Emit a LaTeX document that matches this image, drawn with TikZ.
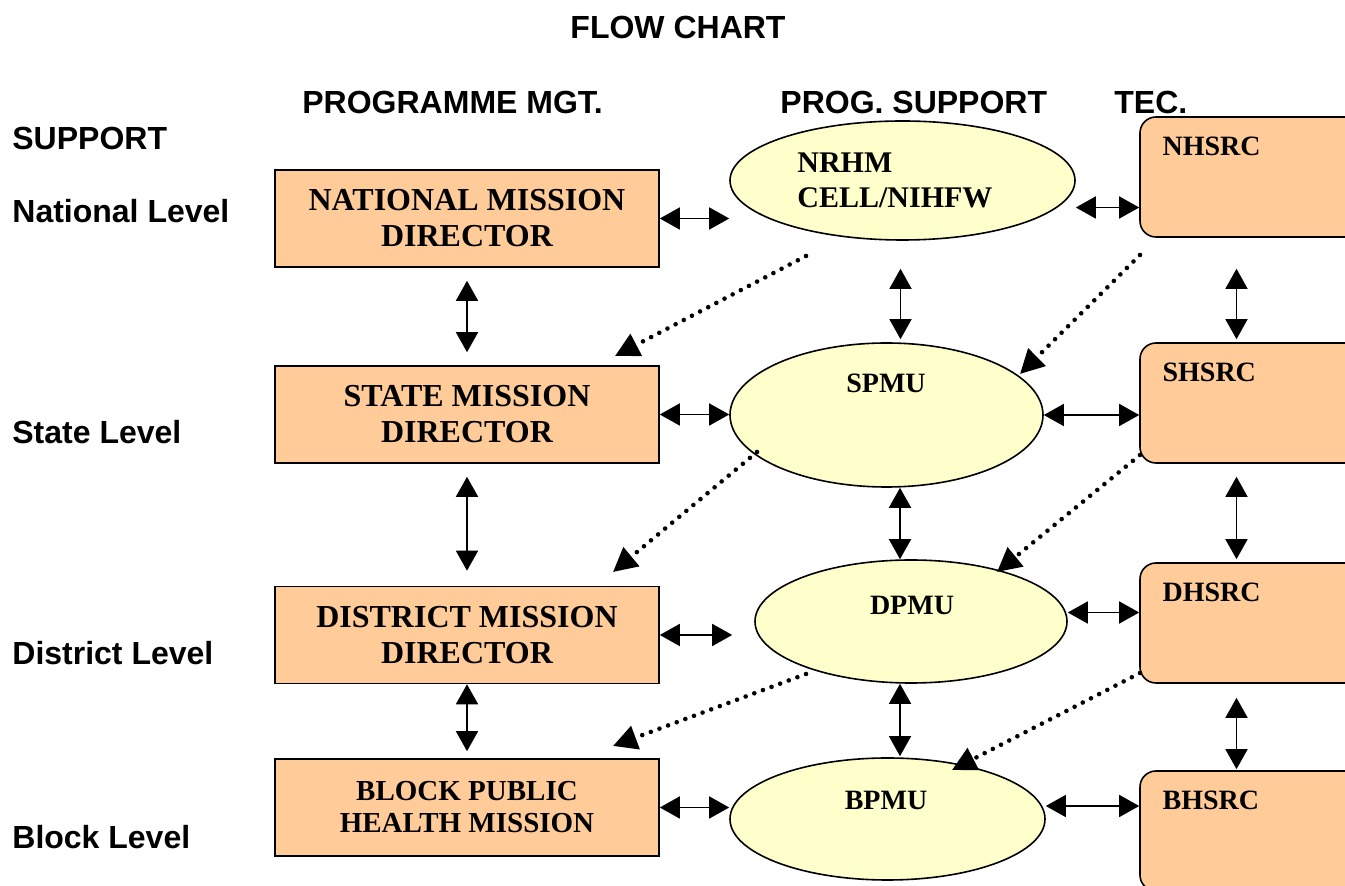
\documentclass[tikz,border=0pt]{standalone}
\usepackage{fontspec}
\setmainfont{Liberation Serif}
\newfontfamily\headfont{Liberation Sans}
\usetikzlibrary{positioning}
\usetikzlibrary{shapes.geometric,arrows.meta}

\definecolor{mgtfill}{RGB}{255,204,153}
\definecolor{pmufill}{RGB}{255,255,204}

\tikzset{
  mgtbox/.style={draw, line width=0.8pt, fill=mgtfill, minimum width=192pt, minimum height=48.5pt,
    align=center, inner sep=0pt, font=\fontsize{16}{18}\selectfont\bfseries},
  pmu/.style={ellipse, draw, line width=0.8pt, fill=pmufill, inner sep=0pt},
  tecbox/.style={draw, rounded corners=8pt, line width=0.8pt, fill=mgtfill,
    minimum width=112.5pt, minimum height=60pt},
  smalltxt/.style={inner sep=0pt, align=left, font=\fontsize{14}{17.5}\selectfont\bfseries},
  heading/.style={inner sep=0pt, anchor=base west, font=\headfont\fontsize{16}{18}\selectfont\bfseries},
  dbl/.style={{Triangle[length=10pt,width=11pt]}-{Triangle[length=10pt,width=11pt]}, line width=0.8pt},
  dotarr/.style={-{Triangle[length=12pt,width=12pt]}, line width=2.3pt, line cap=round,
    dash pattern=on 0pt off 4.6pt}
}

\begin{document}
\begin{tikzpicture}[x=0.5pt,y=-0.5pt]
	\useasboundingbox (0,0) rectangle (1345,886);
	\clip (0,0) rectangle (1345,886);

	% headings
	\node[heading, anchor=base] (title) at (678,39) {FLOW CHART};
	\node[heading] (hmgt) at (302,114) {PROGRAMME MGT.};
	\node[heading] (hsup) at (780,114) {PROG. SUPPORT};
	\node[heading] (htec) at (1114,114) {TEC.};
	\node[heading] (lsup) at (12,150) {SUPPORT};
	\node[heading] (lnat) at (12,223) {National Level};
	\node[heading] (lsta) at (12,444) {State Level};
	\node[heading] (ldis) at (12,665) {District Level};
	\node[heading] (lblo) at (12,849) {Block Level};

	% programme management
	\node[mgtbox] (natl) at (467,218.5) {NATIONAL MISSION\\DIRECTOR};
	\node[mgtbox] (state) at (467,414.5) {STATE MISSION\\DIRECTOR};
	\node[mgtbox] (dist) at (467,635) {DISTRICT MISSION\\DIRECTOR};
	\node[mgtbox, font=\fontsize{14.5}{16}\selectfont\bfseries] (block) at (467,807.5) {BLOCK PUBLIC\\HEALTH MISSION};

	% programme support
	\node[pmu, minimum width=172.5pt, minimum height=59.5pt] (nrhm) at (902.5,180.5) {};
	\node[pmu, minimum width=156.5pt, minimum height=72pt] (spmu) at (886.5,415) {};
	\node[pmu, minimum width=156pt, minimum height=61.5pt] (dpmu) at (911,621.5) {};
	\node[pmu, minimum width=157.5pt, minimum height=61pt] (bpmu) at (887.5,819) {};
	\node[smalltxt, anchor=west, font=\fontsize{15}{17.5}\selectfont\bfseries] (nrhmT) at (797,180) {NRHM\\CELL/NIHFW};
	\node[smalltxt] (spmuT) at (886,383) {SPMU};
	\node[smalltxt] (dpmuT) at (912,605) {DPMU};
	\node[smalltxt] (bpmuT) at (886,800) {BPMU};

	% technical support
	\node[tecbox] (nhsrc) at (1252.5,177) {};
	\node[tecbox] (shsrc) at (1252.5,403) {};
	\node[tecbox] (dhsrc) at (1252.5,623) {};
	\node[tecbox] (bhsrc) at (1252.5,831) {};
	\node[smalltxt, anchor=base west] (nhsrcT) at ([shift={(23,39)}]nhsrc.north west) {NHSRC};
	\node[smalltxt, anchor=base west] (shsrcT) at ([shift={(23,39)}]shsrc.north west) {SHSRC};
	\node[smalltxt, anchor=base west] (dhsrcT) at ([shift={(23,39)}]dhsrc.north west) {DHSRC};
	\node[smalltxt, anchor=base west] (bhsrcT) at ([shift={(23,39)}]bhsrc.north west) {BHSRC};

	% horizontal links
	\draw[dbl] (natl.east) -- (natl.east -| nrhm.west);
	\draw[dbl] ([yshift=-13.5pt]nrhm.east) -- ([yshift=-13.5pt]nrhm.east -| nhsrc.west);
	\draw[dbl] (state.east) -- (state.east -| spmu.west);
	\draw[dbl] (spmu.east) -- (spmu.east -| shsrc.west);
	\draw[dbl, shorten >=11pt] (dist.east) -- (dist.east -| dpmu.west);
	\draw[dbl] ([yshift=4.5pt]dpmu.east) -- ([yshift=4.5pt]dpmu.east -| dhsrc.west);
	\draw[dbl] (block.east) -- (block.east -| bpmu.west);
	\draw[dbl] ([yshift=6.5pt]bpmu.east) -- ([yshift=6.5pt]bpmu.east -| bhsrc.west);

	% vertical links
	\draw[dbl, shorten <=6.5pt, shorten >=6.5pt] (natl.south) -- (state.north);
	\draw[dbl, shorten <=6.5pt, shorten >=7.5pt] (state.south) -- (dist.north);
	\draw[dbl, shorten >=3.5pt] (dist.south) -- (block.north);
	\draw[dbl, shorten <=14pt, shorten >=1.5pt] ([xshift=-1pt]nrhm.south) -- ([xshift=-1pt]nrhm.south |- spmu.north);
	\draw[dbl] ([xshift=-5.5pt]dpmu.north |- spmu.south) -- ([xshift=-5.5pt]dpmu.north);
	\draw[dbl, shorten >=0.5pt] ([xshift=-5.5pt]dpmu.south) -- ([xshift=-5.5pt]dpmu.south |- bpmu.north);
	\draw[dbl, shorten <=15.5pt, shorten >=1.5pt] ([xshift=-8pt]nhsrc.south) -- ([xshift=-8pt]shsrc.north);
	\draw[dbl, shorten <=6.5pt, shorten >=1.5pt] ([xshift=-8pt]shsrc.south) -- ([xshift=-8pt]dhsrc.north);
	\draw[dbl, shorten <=7pt, shorten >=0.5pt] ([xshift=-8pt]dhsrc.south) -- ([xshift=-8pt]bhsrc.north);

	% dotted links
	\coordinate (d1s) at (806,256);  \coordinate (d1e) at (615,356);
	\coordinate (d2s) at (1140,255); \coordinate (d2e) at (1020,374);
	\coordinate (d3s) at (757,452);  \coordinate (d3e) at (613,572);
	\coordinate (d4s) at (1140,455); \coordinate (d4e) at (997,572);
	\coordinate (d5s) at (806,674);  \coordinate (d5e) at (613,746);
	\coordinate (d6s) at (1140,673); \coordinate (d6e) at (952,770);
	\foreach \i in {1,...,6}
		\draw[dotarr] (d\i s) -- (d\i e);
\end{tikzpicture}
\end{document}
